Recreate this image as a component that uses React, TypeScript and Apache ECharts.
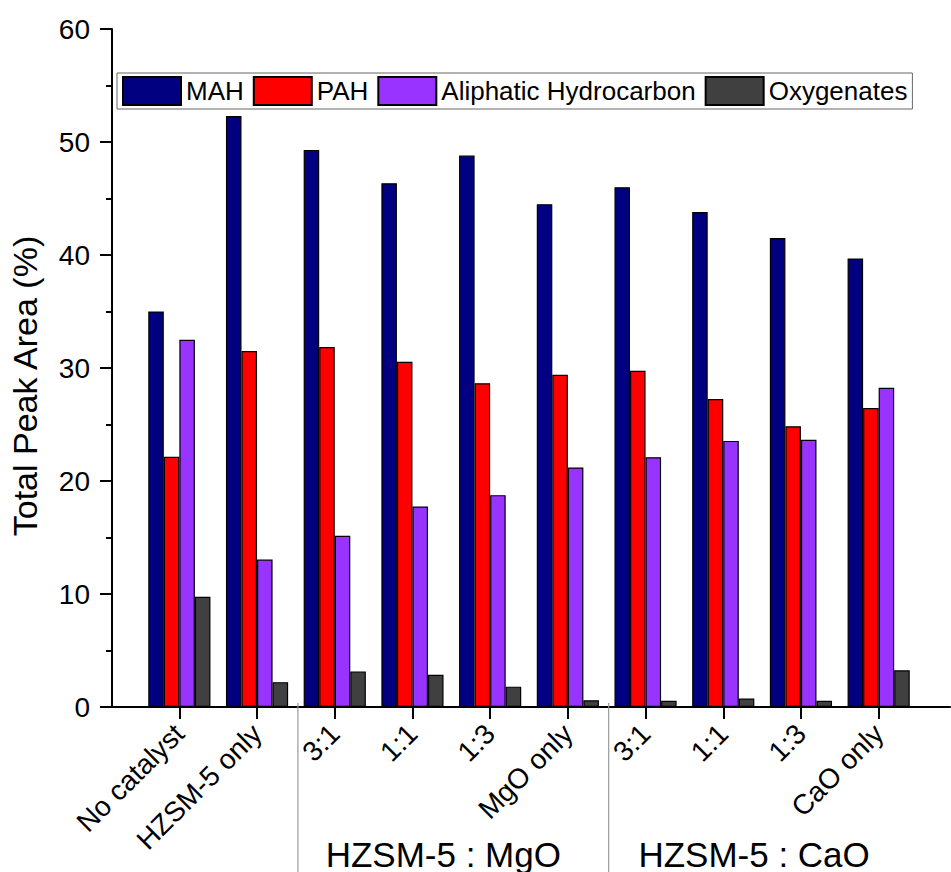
import React, { useEffect, useRef } from "react";
import * as echarts from "echarts";

const categories = ["No catalyst", "HZSM-5 only", "3:1", "1:1", "1:3", "MgO only", "3:1", "1:1", "1:3", "CaO only"];
const seriesNames = ["MAH", "PAH", "Aliphatic Hydrocarbon", "Oxygenates"];
const mah = [35.0, 52.3, 49.3, 46.35, 48.8, 44.5, 46.0, 43.8, 41.5, 39.7];
const pah = [22.15, 31.5, 31.85, 30.55, 28.65, 29.4, 29.75, 27.25, 24.85, 26.45];
const aliphatic = [32.5, 13.05, 15.15, 17.75, 18.75, 21.2, 22.1, 23.55, 23.65, 28.25];
const oxygenates = [9.75, 2.2, 3.15, 2.85, 1.8, 0.6, 0.55, 0.75, 0.55, 3.25];
const colors = ["#000080", "#FF0000", "#9933FF", "#404040"];
const groupLabels = ["HZSM-5 : MgO", "HZSM-5 : CaO"];
const groupRanges = [[2, 5], [6, 9]];
const separatorsAfter = [1, 5];

const FONT = "'Liberation Sans', Arial, sans-serif";

export default function App() {
  const ref = useRef<HTMLDivElement>(null);
  useEffect(() => {
    if (!ref.current) return;
    const chart = echarts.init(ref.current, null, { renderer: "svg" });
    const values = [mah, pah, aliphatic, oxygenates];
    chart.setOption({
      animation: false,
      backgroundColor: "#fff",
      textStyle: { fontFamily: FONT },
      legend: {
        left: 117,
        top: 73,
        icon: "rect",
        itemWidth: 58,
        itemHeight: 28,
        itemGap: 9,
        padding: [3, 5],
        borderColor: "#666",
        borderWidth: 1,
        textStyle: { fontSize: 26, color: "#000", fontFamily: FONT },
        data: seriesNames,
      },
      grid: [
        { left: 109, right: 1, top: 29, bottom: 165 },
        { left: 140.5, width: 777, top: 29, bottom: 165 },
      ],
      xAxis: [
        {
          gridIndex: 0,
          type: "value",
          min: 0,
          max: 1,
          axisLine: { show: true, lineStyle: { color: "#000", width: 2 } },
          axisTick: { show: false },
          axisLabel: { show: false },
          splitLine: { show: false },
        },
        {
          gridIndex: 1,
          type: "category",
          data: categories,
          axisLine: { show: false },
          axisTick: { show: true, alignWithLabel: true, length: 12, lineStyle: { color: "#000", width: 2 } },
          axisLabel: { rotate: 45, fontSize: 28, color: "#000", margin: 22, fontFamily: FONT, interval: 0 },
          splitLine: { show: false },
        },
      ],
      yAxis: [
        {
          gridIndex: 0,
          type: "value",
          min: 0,
          max: 60,
          interval: 10,
          name: "Total Peak Area (%)",
          nameLocation: "middle",
          nameGap: 70,
          nameTextStyle: { fontSize: 34, color: "#000", fontFamily: FONT, padding: [0, 36, 0, 0] },
          axisLine: { show: true, lineStyle: { color: "#000", width: 2 } },
          axisTick: { show: true, length: 12, lineStyle: { color: "#000", width: 2 } },
          minorTick: { show: true, splitNumber: 2, length: 6, lineStyle: { color: "#000", width: 2 } },
          axisLabel: { fontSize: 28, color: "#000", margin: 22, fontFamily: FONT },
          splitLine: { show: false },
        },
        { gridIndex: 1, type: "value", min: 0, max: 60, show: false },
      ],
      series: seriesNames.map((name, i) => ({
        name,
        type: "bar",
        xAxisIndex: 1,
        yAxisIndex: 1,
        data: values[i],
        barGap: "0%",
        barCategoryGap: "20%",
        itemStyle: { color: colors[i], borderColor: "#000", borderWidth: 1.2 },
      })),
    });

    const px = (i: number) => chart.convertToPixel({ xAxisIndex: 1 }, i) as number;
    const graphics: any[] = [];
    separatorsAfter.forEach((i) => {
      const x = (px(i) + px(i + 1)) / 2 + 2;
      graphics.push({
        type: "line",
        shape: { x1: x, y1: 703, x2: x, y2: 872 },
        style: { stroke: "#999", lineWidth: 1.2 },
        z: 10,
      });
    });
    groupRanges.forEach(([a, b], k) => {
      const x = (px(a) + px(b)) / 2 - 8;
      graphics.push({
        type: "text",
        x,
        y: 854,
        style: {
          text: groupLabels[k],
          fontSize: 35,
          fontFamily: FONT,
          fill: "#000",
          align: "center",
          verticalAlign: "middle",
        },
        z: 10,
      });
    });
    chart.setOption({ graphic: graphics });

    return () => chart.dispose();
  }, []);
  return <div ref={ref} style={{ position: "absolute", left: 0, top: 0, width: 951, height: 872 }} />;
}
